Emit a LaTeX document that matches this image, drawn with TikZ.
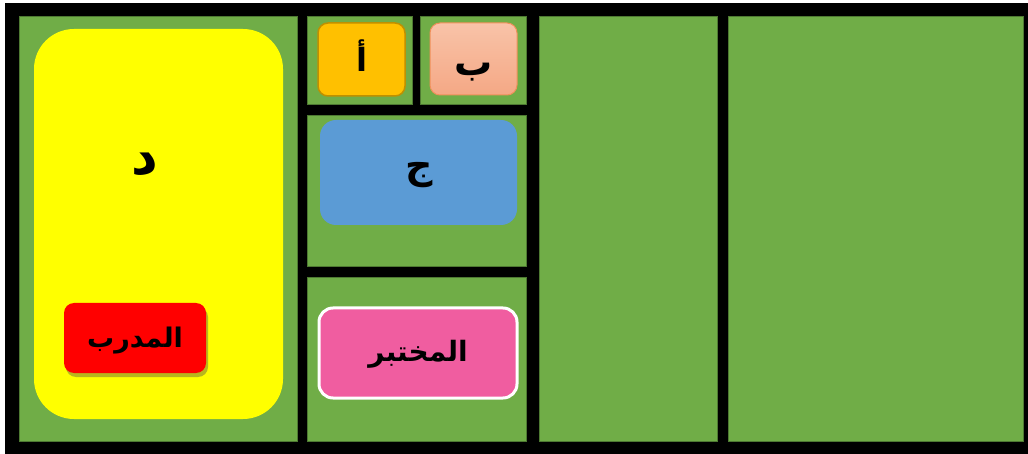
\documentclass[tikz,border=0pt]{standalone}
\usepackage{fontspec}
\usetikzlibrary{shadows}
\TeXXeTstate=1
\newfontfamily\arabicfont[Script=Arabic]{DejaVu Sans}
\definecolor{fieldgreen}{HTML}{70AD47}
\definecolor{boxyellow}{HTML}{FFFF00}
\definecolor{boxred}{HTML}{FF0000}
\definecolor{boxorange}{HTML}{FFC000}
\definecolor{boxorangeedge}{HTML}{BF9000}
\definecolor{peachtop}{HTML}{F8C3A8}
\definecolor{peachbot}{HTML}{F5A885}
\definecolor{peachedge}{HTML}{F0905A}
\definecolor{boxblue}{HTML}{5B9BD5}
\definecolor{boxpink}{HTML}{F05DA0}
\tikzset{
  field/.style={fill=fieldgreen, draw=fieldgreen!70!black, line width=0.5pt},
  zone/.style={rectangle, inner sep=0pt, outer sep=0pt},
  lbl/.style={inner sep=0pt, outer sep=0pt, font=\arabicfont\bfseries\fontsize{#1}{#1}\selectfont},
}
\begin{document}
\begin{tikzpicture}[x=1pt,y=-1pt]
\useasboundingbox (0,0) rectangle (1028,454);
\fill[white] (0,0) rectangle (1028,454);
% outer black frame
\fill[black] (5,3) rectangle (1028,454);
% green fields
\draw[field] (19,16) rectangle (297,441);
\draw[field] (307,16) rectangle (412,104);
\draw[field] (420,16) rectangle (526,104);
\draw[field] (307,115) rectangle (526,266);
\draw[field] (307,277) rectangle (526,441);
\draw[field] (539,16) rectangle (717,441);
\draw[field] (728,16) rectangle (1023,441);
% boxes
\node[zone, fill=boxyellow, rounded corners=40pt, minimum width=249pt, minimum height=390pt] (dal) at (158.5,224) {};
\node[lbl=52] (dallabel) at (145,164) {\beginR د\endR};
\node[zone, fill=boxred, rounded corners=10pt, minimum width=142pt, minimum height=70pt,
  drop shadow={shadow xshift=2pt, shadow yshift=-4pt, opacity=0.4, fill=black!70}] (trainer) at (135,338) {};
\node[lbl=27] (trainerlabel) at (135,341) {\beginR المدرب\endR};
\node[zone, fill=boxorange, draw=boxorangeedge, line width=1.5pt, rounded corners=10pt, minimum width=87pt, minimum height=73pt] (alif) at (361.5,59.5) {};
\node[lbl=32] (alifl) at (362,56) {\beginR أ\endR};
\node[zone, top color=peachtop, bottom color=peachbot, draw=peachedge, line width=1pt, rounded corners=10pt, minimum width=87pt, minimum height=72pt] (ba) at (473.5,59) {};
\node[lbl=38] (bal) at (474,72) {\beginR ب\endR};
\node[zone, fill=boxblue, rounded corners=16pt, minimum width=197pt, minimum height=105pt] (jim) at (418.5,172.5) {};
\node[lbl=38] (jiml) at (419,175) {\beginR ج\endR};
\node[zone, fill=boxpink, draw=white, line width=3pt, rounded corners=14pt, minimum width=198pt, minimum height=90pt] (lab) at (418,353) {};
\node[lbl=28] (labl) at (418,354) {\beginR المختبر\endR};
\end{tikzpicture}
\end{document}
